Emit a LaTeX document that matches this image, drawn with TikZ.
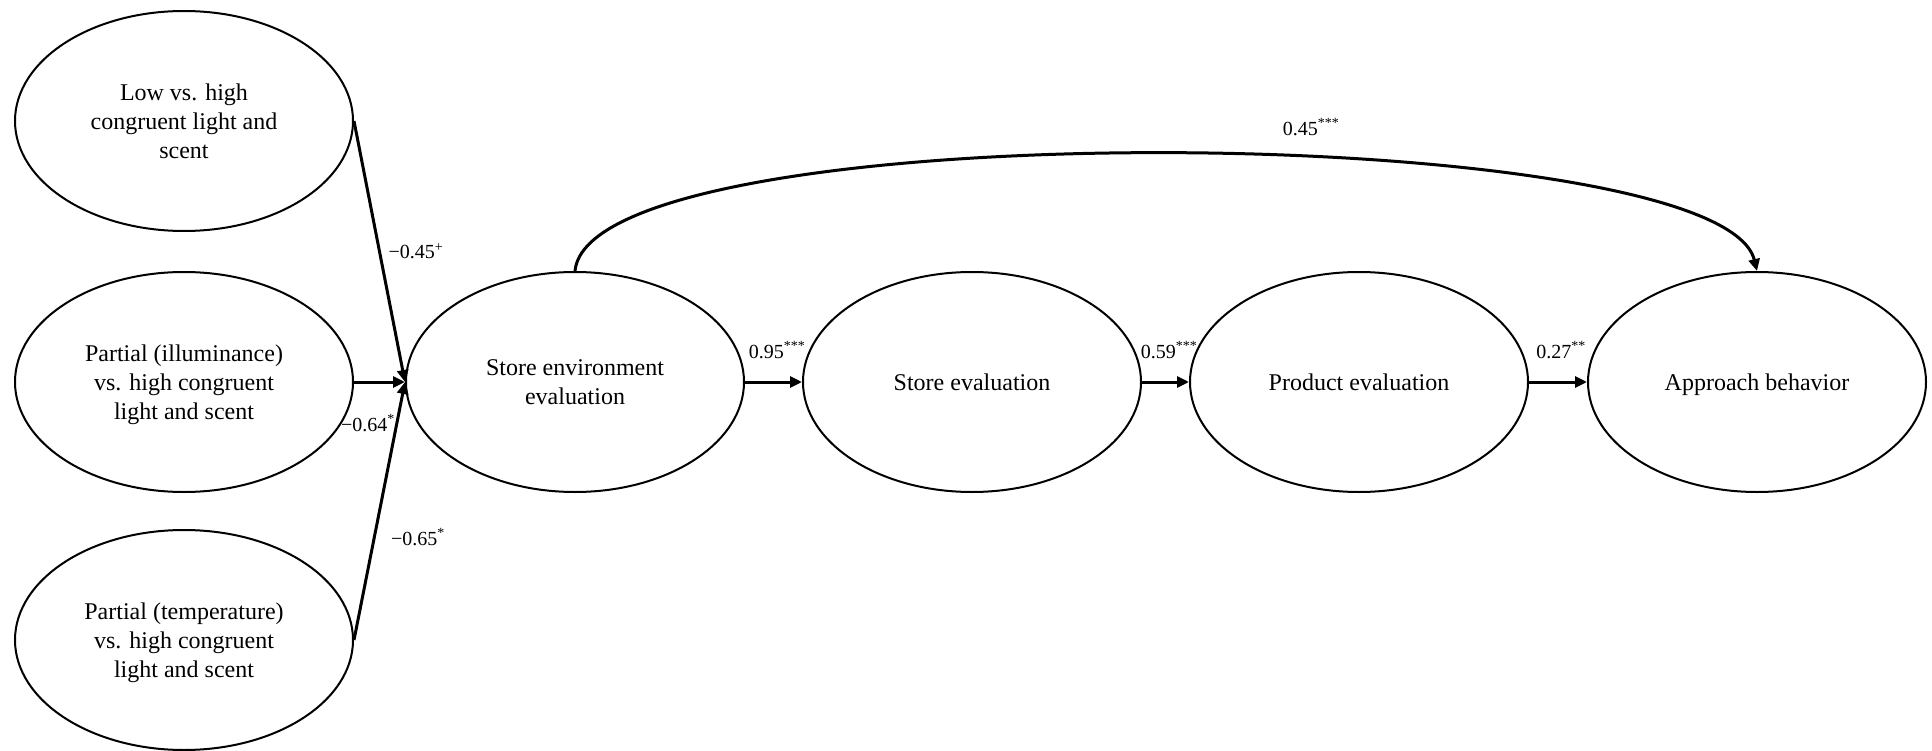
\documentclass[tikz,border=0pt]{standalone}
\usepackage{fontspec}
\setmainfont{Liberation Serif}
\usetikzlibrary{shapes.geometric,arrows.meta}
\tikzset{
  latent/.style={ellipse, draw, line width=2pt, minimum width=338pt, minimum height=220pt,
    inner sep=0pt, align=center, text depth=0pt, font=\fontsize{24}{29}\selectfont},
  path/.style={line width=3pt, -{Triangle[length=12pt,width=11pt]}},
  coef/.style={inner sep=0pt, font=\fontsize{20}{24}\selectfont}
}
\begin{document}
\begin{tikzpicture}[x=1pt,y=-1pt]
\useasboundingbox (0,0) rectangle (1932,751);
\node[latent] (low) at (184,121) {Low vs. high\\congruent light and\\scent};
\node[latent] (illum) at (184,382) {Partial (illuminance)\\vs. high congruent\\light and scent};
\node[latent] (temp) at (184,640) {Partial (temperature)\\vs. high congruent\\light and scent};
\node[latent] (senv) at (575,382) {Store environment\\evaluation};
\node[latent] (seval) at (972,382) {Store evaluation};
\node[latent] (peval) at (1359,382) {Product evaluation};
\node[latent] (app) at (1757,382) {Approach behavior};

\draw[path] (low.east) -- (senv.west);
\draw[path] (illum.east) -- (senv.west);
\draw[path] (temp.east) -- (senv.west);
\draw[path] (senv.east) -- (seval.west);
\draw[path] (seval.east) -- (peval.west);
\draw[path] (peval.east) -- (app.west);
\draw[path] (senv.north) .. controls (590,110) and (1720,120) .. (app.north);

\node[coef] (c1) at (416,251) {−0.45\textsuperscript{+}};
\node[coef] (c2) at (368,423) {−0.64\textsuperscript{*}};
\node[coef] (c3) at (418,537) {−0.65\textsuperscript{*}};
\node[coef] (c4) at (777,350) {0.95\textsuperscript{***}};
\node[coef] (c5) at (1169,350) {0.59\textsuperscript{***}};
\node[coef] (c6) at (1561,350) {0.27\textsuperscript{**}};
\node[coef] (c7) at (1311,127) {0.45\textsuperscript{***}};
\end{tikzpicture}
\end{document}
